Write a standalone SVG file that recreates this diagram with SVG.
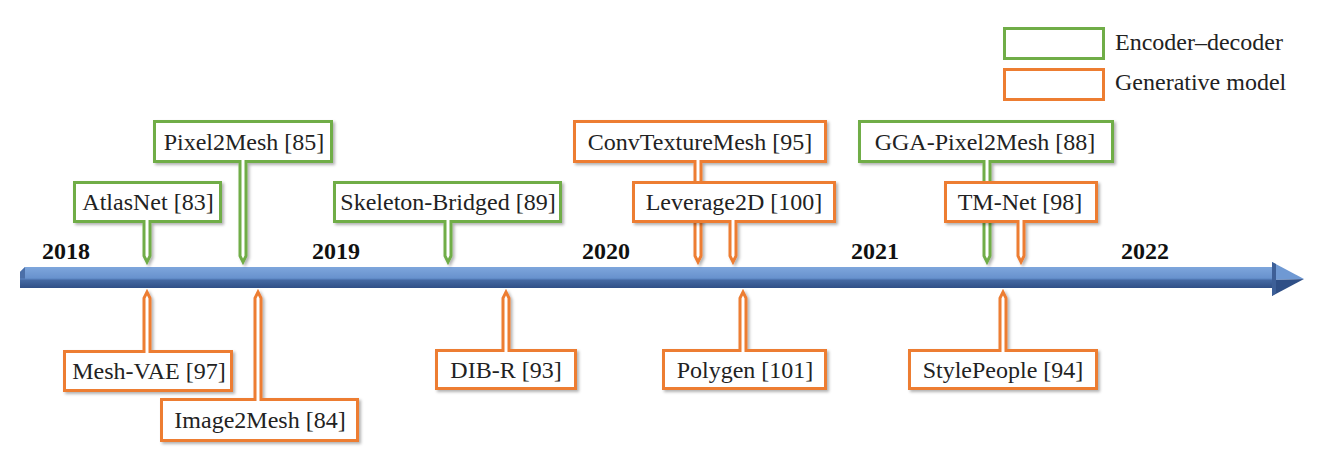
<svg xmlns="http://www.w3.org/2000/svg" width="1321" height="464" viewBox="0 0 1321 464">
<defs>
<style>
.t{font-family:"Liberation Serif","Times New Roman",serif;font-size:24px;fill:#222;text-anchor:middle}
.lg{font-family:"Liberation Serif","Times New Roman",serif;font-size:24px;fill:#222}
.yr{font-family:"Liberation Serif","Times New Roman",serif;font-size:24px;font-weight:bold;fill:#111}
.g{fill:#fff;stroke:#70ad47;stroke-width:3;stroke-linejoin:miter;filter:url(#sh)}
.o{fill:#fff;stroke:#ed7d31;stroke-width:3;stroke-linejoin:miter;filter:url(#sh)}
.lgG{fill:#fff;stroke:#70ad47;stroke-width:3}
.lgO{fill:#fff;stroke:#ed7d31;stroke-width:3}
</style>
<filter id="sh" x="-10%" y="-10%" width="130%" height="130%">
<feDropShadow dx="2" dy="2" stdDeviation="1.5" flood-color="#000" flood-opacity="0.3"/>
</filter>
<linearGradient id="topFace" x1="0" y1="0" x2="0" y2="1">
<stop offset="0" stop-color="#7ea6dc"/>
<stop offset="1" stop-color="#6690cc"/>
</linearGradient>
<linearGradient id="botFace" x1="0" y1="0" x2="0" y2="1">
<stop offset="0" stop-color="#4a70aa"/>
<stop offset="1" stop-color="#2f4f86"/>
</linearGradient>
</defs>
<rect width="1321" height="464" fill="#fff"/>

<g id="legend">
<rect class="lgG" x="1004.5" y="28.5" width="99" height="30"/>
<text class="lg" x="1115" y="50">Encoder–decoder</text>
<rect class="lgO" x="1004.5" y="69.5" width="99" height="30"/>
<text class="lg" x="1115" y="90">Generative model</text>
</g>

<g id="timeline">
<rect x="20" y="278" width="1256" height="10" fill="url(#botFace)"/>
<path d="M20,272 L25,267 H1276 V279 H20 Z" fill="url(#topFace)"/>
<path d="M20,272 L25,267 V279 H20 Z" fill="#4b6fa8"/>
<line x1="20" y1="279" x2="1276" y2="279" stroke="#5b84c0" stroke-width="1"/>
<path d="M1272,262 L1304,279 L1272,280 Z" fill="#6f99d3"/>
<path d="M1272,280 L1304,279 L1272,296 Z" fill="#2f4f86"/>
<path d="M1272,262 L1276,264 V293 L1272,296 Z" fill="#3d5f97"/>
</g>

<g id="years">
<text class="yr" x="42" y="259">2018</text>
<text class="yr" x="312" y="259">2019</text>
<text class="yr" x="582" y="259">2020</text>
<text class="yr" x="851" y="259">2021</text>
<text class="yr" x="1121" y="259">2022</text>
</g>

<g id="connectors"></g>

<g id="atlasnet">
<path class="g" d="M74.5,182.5 H220.5 V221.5 H150 V256 L147,262 L144,256 V221.5 H74.5 Z"/>
<text class="t" x="148" y="210">AtlasNet [83]</text>
</g>
<g id="pixel2mesh">
<path class="g" d="M154.5,121.5 H331.5 V161.5 H246 V256 L243,262 L240,256 V161.5 H154.5 Z"/>
<text class="t" x="244" y="150">Pixel2Mesh [85]</text>
</g>
<g id="skeleton-bridged">
<path class="g" d="M334.5,182.5 H560.5 V221.5 H451 V256 L448,262 L445,256 V221.5 H334.5 Z"/>
<text class="t" x="448" y="210">Skeleton-Bridged [89]</text>
</g>
<g id="convtexturemesh">
<path class="o" d="M574.5,121.5 H825.5 V161.5 H701 V256 L698,262 L695,256 V161.5 H574.5 Z"/>
<text class="t" x="700" y="150">ConvTextureMesh [95]</text>
</g>
<g id="leverage2d">
<path class="o" d="M633.5,182.5 H834.5 V221.5 H736 V256 L733,262 L730,256 V221.5 H633.5 Z"/>
<text class="t" x="734" y="210">Leverage2D [100]</text>
</g>
<g id="gga-pixel2mesh">
<path class="g" d="M859.5,121.5 H1112.5 V161.5 H990 V256 L987,262 L984,256 V161.5 H859.5 Z"/>
<text class="t" x="985" y="150">GGA-Pixel2Mesh [88]</text>
</g>
<g id="tm-net">
<path class="o" d="M945.5,182.5 H1096.5 V221.5 H1024 V256 L1021,262 L1018,256 V221.5 H945.5 Z"/>
<text class="t" x="1020" y="210">TM-Net [98]</text>
</g>

<g id="mesh-vae">
<path class="o" d="M64.5,351.5 H144 V298 L147,292 L150,298 V351.5 H231.5 V390.5 H64.5 Z"/>
<text class="t" x="149" y="379">Mesh-VAE [97]</text>
</g>
<g id="image2mesh">
<path class="o" d="M161.5,399.5 H255 V298 L258,292 L261,298 V399.5 H357.5 V440.5 H161.5 Z"/>
<text class="t" x="260" y="428">Image2Mesh [84]</text>
</g>
<g id="dib-r">
<path class="o" d="M436.5,350.5 H503 V298 L506,292 L509,298 V350.5 H575.5 V388.5 H436.5 Z"/>
<text class="t" x="506" y="378">DIB-R [93]</text>
</g>
<g id="polygen">
<path class="o" d="M663.5,350.5 H740 V298 L743,292 L746,298 V350.5 H825.5 V388.5 H663.5 Z"/>
<text class="t" x="745" y="378">Polygen [101]</text>
</g>
<g id="stylepeople">
<path class="o" d="M909.5,350.5 H1000 V298 L1003,292 L1006,298 V350.5 H1096.5 V388.5 H909.5 Z"/>
<text class="t" x="1003" y="378">StylePeople [94]</text>
</g>
</svg>
